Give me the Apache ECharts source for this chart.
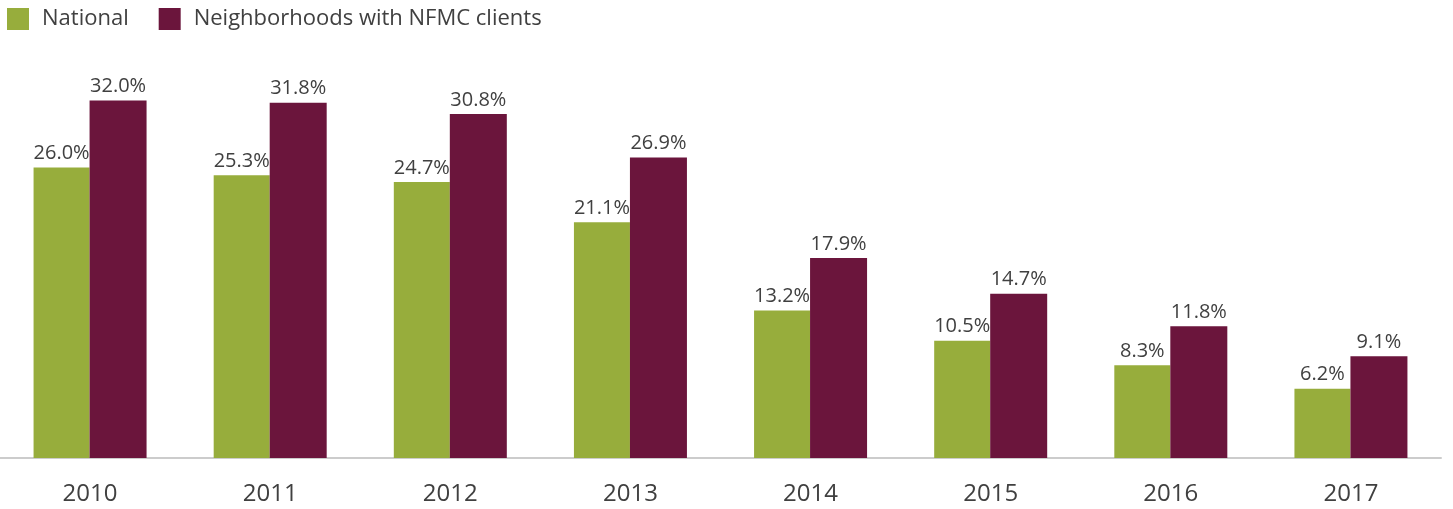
<!DOCTYPE html>
<html>
<head>
<meta charset="utf-8">
<script src="https://cdn.jsdelivr.net/npm/echarts@6/dist/echarts.min.js"></script>
<style>
  html, body { margin: 0; padding: 0; background: #fff; }
  #chart { width: 1453px; height: 509px; }
</style>
</head>
<body>
<div id="chart"></div>
<script>
// 数据
const years = ['2010', '2011', '2012', '2013', '2014', '2015', '2016', '2017']
const national = [26.0, 25.3, 24.7, 21.1, 13.2, 10.5, 8.3, 6.2]
const nfmc = [32.0, 31.8, 30.8, 26.9, 17.9, 14.7, 11.8, 9.1]

const chart = echarts.init(document.getElementById('chart'))

const labelStyle = {
  show: true,
  position: 'top',
  distance: 4,
  color: '#404040',
  fontSize: 20,
  fontFamily: 'Open Sans',
  formatter: (p) => p.value.toFixed(1) + '%'
}

chart.setOption({
  animation: false,
  legend: {
    left: 7,
    top: 8,
    padding: 0,
    itemWidth: 22,
    itemHeight: 22,
    itemGap: 30,
    icon: 'rect',
    textStyle: { color: '#404040', fontSize: 22, fontFamily: 'Open Sans', padding: [0, 0, 0, 8] },
    data: ['National', 'Neighborhoods with NFMC clients']
  },
  grid: { left: -2, width: 1443, top: 67, bottom: 51, containLabel: false },
  xAxis: {
    type: 'category',
    data: years,
    axisLine: { lineStyle: { color: '#cccccc', width: 2 } },
    axisTick: { show: false },
    axisLabel: { color: '#404040', fontSize: 24, fontFamily: 'Open Sans', margin: 24 }
  },
  yAxis: {
    type: 'value',
    min: 0,
    max: 35,
    show: false,
    splitLine: { show: false }
  },
  series: [
    {
      name: 'National',
      type: 'bar',
      data: national,
      barWidth: 56,
      barGap: '0%',
      itemStyle: { color: '#97ad3c' },
      label: labelStyle
    },
    {
      name: 'Neighborhoods with NFMC clients',
      type: 'bar',
      data: nfmc,
      barWidth: 57,
      itemStyle: { color: '#6b153c' },
      label: labelStyle
    }
  ]
})
</script>
</body>
</html>
